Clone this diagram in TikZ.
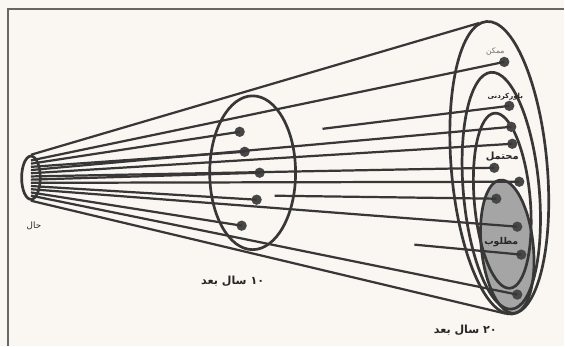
\documentclass[tikz,border=0pt]{standalone}
\usepackage{fontspec}
\newfontfamily\farsi[Script=Arabic]{DejaVu Sans}
\TeXXeTstate=1
\usepackage{tikz}
\usetikzlibrary{shapes.geometric}
\definecolor{kaghaz}{RGB}{250,246,241}
\definecolor{morakkab}{RGB}{55,55,55}
\definecolor{sayeh}{RGB}{165,165,165}
\newcommand{\fatxt}[1]{{\farsi\beginR #1\endR}}

\begin{document}
\begin{tikzpicture}[
    x=0.03cm, y=-0.03cm,
    khat/.style={draw=morakkab, line width=1.9pt},
    bayzi/.style={draw=morakkab, line width=2.3pt, ellipse, inner sep=0pt},
    noqte/.style={circle, fill=morakkab!92, inner sep=0pt, minimum size=3.1mm},
    barchasb/.style={font=\bfseries\fontsize{8}{9}\selectfont, text=black!85, inner sep=1pt}
  ]
    \fill[kaghaz] (0,0) rectangle (565,346);
    \draw[black!60, line width=1.4pt] (8,346) -- (8,9) -- (565,9);

    % bayzi ha
    \node[bayzi, minimum width=0.56cm, minimum height=1.3cm] (hal) at (31,178) {};
    \node[bayzi, minimum width=2.58cm, minimum height=4.62cm] (dah) at (253,173) {};
    \node[bayzi, fill=sayeh, minimum width=1.56cm, minimum height=4.02cm, rotate=6] (matlub) at (508,247) {};
    \node[bayzi, minimum width=1.68cm, minimum height=5.28cm, rotate=5] (mohtamal) at (503,201) {};
    \node[bayzi, minimum width=2.28cm, minimum height=7.14cm, rotate=5] (bavar) at (502,191) {};
    \node[bayzi, minimum width=2.88cm, minimum height=8.82cm, rotate=5] (momken) at (500,168) {};

    % noqte ha
    \node[noqte] (a1) at (240,132) {};
    \node[noqte] (a2) at (245,152) {};
    \node[noqte] (a3) at (260,173) {};
    \node[noqte] (a4) at (257,200) {};
    \node[noqte] (a5) at (242,226) {};
    \node[noqte] (b1) at (505,62) {};
    \node[noqte] (b2) at (510,106) {};
    \node[noqte] (b3) at (512,127) {};
    \node[noqte] (b4) at (513,144) {};
    \node[noqte] (b5) at (495,168) {};
    \node[noqte] (b6) at (520,182) {};
    \node[noqte] (b7) at (497,199) {};
    \node[noqte] (b8) at (518,227) {};
    \node[noqte] (b9) at (522,255) {};
    \node[noqte] (b10) at (518,295) {};

    % khat ha
    \coordinate (bala) at (480,23);
    \coordinate (payin) at (506,314);
    \draw[khat] (hal.north) -- (bala);
    \draw[khat] (hal.south) -- (payin);
    \foreach \i in {1,...,12} \coordinate (o\i) at (31,{157.5+3.2*\i});
    \foreach \i/\t in {1/b1,2/a1,3/a2,4/b3,5/b4,6/b5,7/a3,8/b6,9/a4,10/b8,11/a5,12/b10}
      \draw[khat] (o\i) -- (\t.center);
    \coordinate (c1) at (323,129);
    \coordinate (c2) at (275,196);
    \coordinate (c3) at (415,245);
    \draw[khat] (c1) -- (b2.center);
    \draw[khat] (c2) -- (b7.center);
    \draw[khat] (c3) -- (b9.center);

    % barchasb ha
    \node[barchasb, font=\fontsize{7.5}{8}\selectfont] (lhal) at (34,226) {\fatxt{حال}};
    \node[barchasb, font=\fontsize{6.5}{7}\selectfont, text=black!55] (lmomken) at (496,52) {\fatxt{ممکن}};
    \node[barchasb, font=\bfseries\fontsize{6}{7}\selectfont] (lbavar) at (506,97) {\fatxt{باورکردنی}};
    \node[barchasb, font=\bfseries\fontsize{8.5}{9}\selectfont] (lmohtamal) at (503,157) {\fatxt{محتمل}};
    \node[barchasb] (lmatlub) at (502,242) {\fatxt{مطلوب}};
    \node[barchasb, font=\bfseries\fontsize{9.5}{10}\selectfont] (ldah) at (233,282) {\fatxt{۱۰ سال بعد}};
    \node[barchasb, font=\bfseries\fontsize{9.5}{10}\selectfont] (lbist) at (466,331) {\fatxt{۲۰ سال بعد}};
\end{tikzpicture}
\end{document}
